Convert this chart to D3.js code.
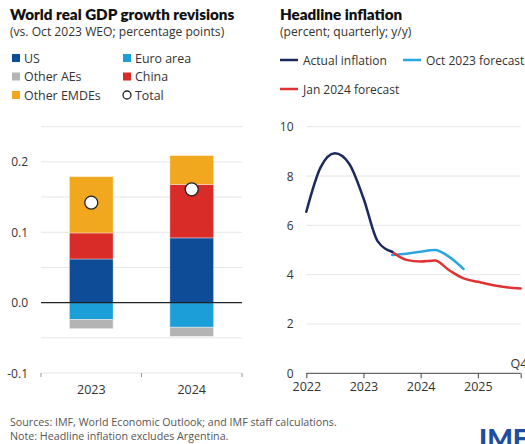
<!DOCTYPE html>
<html>
<head>
<meta charset="utf-8">
<script src="https://cdn.jsdelivr.net/npm/d3@7/dist/d3.min.js"></script>
<style>
  html, body { margin: 0; padding: 0; background: #fff; }
  svg { display: block; }
  svg text { font-family: "Open Sans", "Noto Sans", sans-serif; }
  svg text.bold { font-family: Lato, "Open Sans", sans-serif; }
</style>
</head>
<body>
<svg id="chart" width="525" height="444"></svg>
<script>
// ---------- Data: left panel ----------
const years = ["2023", "2024"];
const usVals = [0.062, 0.092];
const euroVals = [-0.024, -0.035];
const otherAEsVals = [-0.013, -0.013];
const chinaVals = [0.037, 0.076];
const otherEMDEsVals = [0.080, 0.041];
const totalVals = [0.142, 0.161];
const gdpTicks = [-0.1, 0.0, 0.1, 0.2];
const gdpGrid = [-0.1, -0.05, 0.05, 0.1, 0.15, 0.2, 0.25];

// ---------- Data: right panel ----------
const quarters = ["2022Q1","2022Q2","2022Q3","2022Q4","2023Q1","2023Q2","2023Q3","2023Q4",
                  "2024Q1","2024Q2","2024Q3","2024Q4","2025Q1","2025Q2","2025Q3","2025Q4"];
const actualInflation = [6.55, 8.35, 8.92, 8.5, 7.1, 5.35, 4.93];
const oct2023Forecast = [4.8, 4.85, 4.93, 5.0, 4.72, 4.23];
const jan2024Forecast = [4.93, 4.6, 4.53, 4.57, 4.18, 3.85, 3.71, 3.58, 3.49, 3.44];
const inflTicks = [0, 2, 4, 6, 8, 10];
const yearTickLabels = ["2022", "2023", "2024", "2025"];

const colors = {
  us: "#0f4c97", euro: "#1c9ed9", otherAEs: "#b4b4b4", china: "#d92c28", otherEMDEs: "#f2a81e",
  actual: "#1b2a5c", oct: "#2aa7e0", jan: "#e03232"
};
const fontReg = "'Open Sans', 'Noto Sans', sans-serif";

const svg = d3.select("#chart");

// ---------- Left panel ----------
svg.append("text").attr("class", "bold").attr("x", 10).attr("y", 20).attr("font-size", 15.2).attr("font-weight", 800)
  .attr("fill", "#111").text("World real GDP growth revisions");
svg.append("text").attr("x", 10).attr("y", 36).attr("font-size", 12.1).attr("fill", "#333")
  .text("(vs. Oct 2023 WEO; percentage points)");

const leftLegend = [
  {label: "US", color: colors.us, x: 12, y: 58},
  {label: "Other AEs", color: colors.otherAEs, x: 12, y: 76.5},
  {label: "Other EMDEs", color: colors.otherEMDEs, x: 12, y: 95},
  {label: "Euro area", color: colors.euro, x: 123, y: 58},
  {label: "China", color: colors.china, x: 123, y: 76.5}
];
leftLegend.forEach(d => {
  svg.append("rect").attr("x", d.x).attr("y", d.y - 4).attr("width", 8).attr("height", 8).attr("fill", d.color);
  svg.append("text").attr("x", d.x + 12).attr("y", d.y + 4.5).attr("font-size", 12.4).attr("fill", "#333").text(d.label);
});
svg.append("circle").attr("cx", 127).attr("cy", 95).attr("r", 4).attr("fill", "#fff").attr("stroke", "#222").attr("stroke-width", 1.3);
svg.append("text").attr("x", 135).attr("y", 99.5).attr("font-size", 12.4).attr("fill", "#333").text("Total");

const yL = d3.scaleLinear().domain([-0.1, 0.25]).range([373, 126.7]);
const xL = d3.scaleBand().domain(years).range([41, 242]).paddingInner(0.565).paddingOuter(0.283);

const gL = svg.append("g");
gL.selectAll("line.grid").data(gdpGrid).enter().append("line")
  .attr("x1", 41).attr("x2", 242).attr("y1", d => yL(d)).attr("y2", d => yL(d))
  .attr("stroke", "#e6e6e6").attr("stroke-width", 1);

const series = [
  {key: "us", vals: usVals, color: colors.us},
  {key: "china", vals: chinaVals, color: colors.china},
  {key: "otherEMDEs", vals: otherEMDEsVals, color: colors.otherEMDEs},
  {key: "euro", vals: euroVals, color: colors.euro},
  {key: "otherAEs", vals: otherAEsVals, color: colors.otherAEs}
];
years.forEach((yr, i) => {
  let pos = 0, neg = 0;
  series.forEach(s => {
    const v = s.vals[i];
    let y0, y1;
    if (v >= 0) { y0 = pos; y1 = pos + v; pos = y1; }
    else { y0 = neg; y1 = neg + v; neg = y1; }
    gL.append("rect")
      .attr("x", xL(yr)).attr("width", xL.bandwidth())
      .attr("y", yL(Math.max(y0, y1))).attr("height", Math.abs(yL(y0) - yL(y1)))
      .attr("fill", s.color).attr("stroke", "#fff").attr("stroke-opacity", 0.45).attr("stroke-width", 0.8);
  });
});
// zero line
gL.append("line").attr("x1", 41).attr("x2", 242).attr("y1", yL(0)).attr("y2", yL(0))
  .attr("stroke", "#222").attr("stroke-width", 1.2);
// totals
gL.selectAll("circle.total").data(years).enter().append("circle")
  .attr("cx", d => xL(d) + xL.bandwidth() / 2).attr("cy", (d, i) => yL(totalVals[i]))
  .attr("r", 6.5).attr("fill", "#fff").attr("stroke", "#222").attr("stroke-width", 1.3);

// y tick labels
gL.selectAll("text.yt").data(gdpTicks).enter().append("text")
  .attr("x", 28).attr("y", d => yL(d) + 4.5).attr("text-anchor", "end")
  .attr("font-size", 12).attr("fill", "#333")
  .text(d => d.toFixed(1));
// x axis
const xAxisL = d3.axisBottom(xL).tickSize(0).tickPadding(12);
const axL = gL.append("g").attr("transform", `translate(0,${yL(-0.1)})`).call(xAxisL);
axL.select(".domain").remove();
axL.selectAll("text").attr("font-size", 12.5).attr("fill", "#333").style("font-family", fontReg);
[41, xL(years[1]) - xL.step() * xL.paddingInner() / 2, 242].forEach(x => {
  gL.append("line").attr("x1", x).attr("x2", x).attr("y1", yL(-0.1)).attr("y2", yL(-0.1) + 4)
    .attr("stroke", "#999").attr("stroke-width", 1);
});

// ---------- Right panel ----------
svg.append("text").attr("class", "bold").attr("x", 280).attr("y", 20).attr("font-size", 15.2).attr("font-weight", 800)
  .attr("fill", "#111").text("Headline inflation");
svg.append("text").attr("x", 280).attr("y", 36).attr("font-size", 12.1).attr("fill", "#333")
  .text("(percent; quarterly; y/y)");

const rightLegend = [
  {label: "Actual inflation", color: colors.actual, x: 280, y: 60},
  {label: "Oct 2023 forecast", color: colors.oct, x: 403, y: 60},
  {label: "Jan 2024 forecast", color: colors.jan, x: 280, y: 89}
];
rightLegend.forEach(d => {
  svg.append("line").attr("x1", d.x).attr("x2", d.x + 18).attr("y1", d.y).attr("y2", d.y)
    .attr("stroke", d.color).attr("stroke-width", 2.5);
  svg.append("text").attr("x", d.x + 23).attr("y", d.y + 4.5).attr("font-size", 12).attr("fill", "#333").text(d.label);
});

const xR = d3.scalePoint().domain(quarters).range([306.3, 520.7]);
const yR = d3.scaleLinear().domain([0, 10]).range([373.3, 126.7]);
const gR = svg.append("g");
gR.selectAll("line.grid").data(inflTicks.filter(d => d > 0)).enter().append("line")
  .attr("x1", 306.3).attr("x2", 520.7).attr("y1", d => yR(d)).attr("y2", d => yR(d))
  .attr("stroke", "#e6e6e6").attr("stroke-width", 1);
gR.selectAll("text.yt").data(inflTicks).enter().append("text")
  .attr("x", 293.5).attr("y", d => yR(d) + 4.5).attr("text-anchor", "end")
  .attr("font-size", 12).attr("fill", "#333").text(d => d);

const line = d3.line().x(d => xR(d.q)).y(d => yR(d.v)).curve(d3.curveMonotoneX);
const drawSeries = (vals, start, color) => {
  const pts = vals.map((v, i) => ({q: quarters[start + i], v}));
  gR.append("path").datum(pts).attr("d", line).attr("fill", "none")
    .attr("stroke", color).attr("stroke-width", 2.5).attr("stroke-linecap", "round");
};
drawSeries(oct2023Forecast, 6, colors.oct);
drawSeries(jan2024Forecast, 6, colors.jan);
drawSeries(actualInflation, 0, colors.actual);

// x axis
const yearQuarters = yearTickLabels.map(y => y + "Q1");
const xAxisR = d3.axisBottom(xR).tickValues([...yearQuarters, "2025Q4"]).tickSize(5).tickPadding(4)
  .tickFormat(d => d.endsWith("Q1") ? d.slice(0, 4) : "");
const axR = gR.append("g").attr("transform", `translate(0,${yR(0)})`).call(xAxisR);
axR.select(".domain").attr("stroke", "#444").attr("d", `M306.3,0H520.7`);
axR.selectAll(".tick line").attr("stroke", "#444");
axR.selectAll("text").attr("font-size", 12.5).attr("fill", "#333").style("font-family", fontReg);
gR.append("text").attr("x", 510.5).attr("y", yR(0) - 5).attr("font-size", 12.5).attr("fill", "#333").text("Q4");

// ---------- Footer ----------
svg.append("text").attr("x", 10).attr("y", 425.8).attr("font-size", 10.7).attr("fill", "#555")
  .text("Sources: IMF, World Economic Outlook; and IMF staff calculations.");
svg.append("text").attr("x", 10).attr("y", 439.6).attr("font-size", 10.7).attr("fill", "#555")
  .text("Note: Headline inflation excludes Argentina.");
svg.append("text").attr("class", "bold").attr("x", 479).attr("y", 448).attr("font-size", 27).attr("font-weight", 900)
  .attr("fill", "#1d4f9e").text("IMF");
</script>
</body>
</html>
